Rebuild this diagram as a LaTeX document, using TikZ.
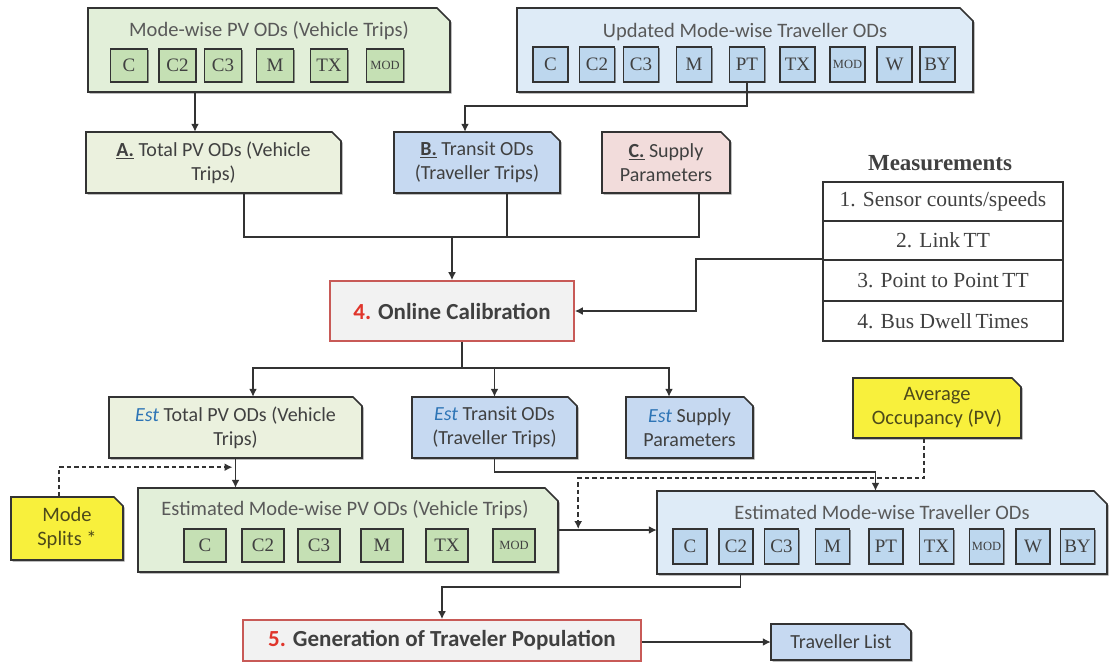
\documentclass[tikz,border=0pt]{standalone}
\usepackage{fontspec}
\setmainfont{Carlito}
\newfontfamily\modefont{Liberation Serif}
\usetikzlibrary{arrows.meta,calc,shadows}

\definecolor{linec}{HTML}{333333}
\definecolor{shadowc}{HTML}{9A9A9A}
\definecolor{textc}{HTML}{404040}
\definecolor{titlec}{HTML}{595959}
\definecolor{pvouter}{HTML}{E2EFD9}
\definecolor{pvinner}{HTML}{C5E0B4}
\definecolor{tvouter}{HTML}{DEEBF7}
\definecolor{tvinner}{HTML}{BDD7EE}
\definecolor{olivefill}{HTML}{EBF1DE}
\definecolor{bluefill}{HTML}{C6D9F1}
\definecolor{pinkfill}{HTML}{F2DCDB}
\definecolor{yellowfill}{HTML}{F8F03C}
\definecolor{yellowtext}{HTML}{4D4A1A}
\definecolor{procfill}{HTML}{F2F2F2}
\definecolor{procline}{HTML}{C85A57}
\definecolor{stepred}{HTML}{E0352B}
\definecolor{estblue}{HTML}{2E75B6}

% box with the top-right corner snipped off, plus a named node covering it
% #1 name, #2 x1, #3 y1, #4 x2, #5 y2, #6 fill, #7 snip size, #8 node style, #9 text
\newcommand\snipbox[9]{%
  \path[fill=shadowc, shift={(1.6,1.6)}] (#2,#3) -- ({#4-#7},#3) -- (#4,{#3+#7}) -- (#4,#5) -- (#2,#5) -- cycle;
  \path[draw=linec, line width=1.6pt, fill=#6] (#2,#3) -- ({#4-#7},#3) -- (#4,{#3+#7}) -- (#4,#5) -- (#2,#5) -- cycle;
  \node[inner sep=0pt, minimum width={#4-#2}, minimum height={#5-#3}, #8] (#1) at ({(#2+#4)/2},{(#3+#5)/2}) {#9};
}

\tikzset{
  boxtext/.style={align=center, text=textc, font=\fontsize{20}{24}\selectfont},
  ytext/.style={align=center, text=yellowtext, font=\fontsize{20.5}{24}\selectfont},
  titletext/.style={text=titlec, font=\fontsize{20.5}{24}\selectfont, inner sep=0pt},
  modebox/.style={draw=linec, line width=1.8pt, inner sep=0pt, text=textc,
    font=\modefont\fontsize{19}{19}\selectfont,
    drop shadow={shadow xshift=1.2pt, shadow yshift=-1.2pt, fill=black, opacity=.4}},
  pvbox/.style={modebox, fill=pvinner, minimum height=33pt},
  tvbox/.style={modebox, fill=tvinner, minimum height=35pt},
  small/.style={font=\modefont\fontsize{12.5}{12.5}\selectfont},
  proc/.style={draw=procline, line width=1.6pt, fill=procfill, inner sep=0pt, text=textc,
    font=\bfseries\fontsize{23}{27}\selectfont},
  mrow/.style={draw=linec, line width=1.6pt, minimum width=240pt, inner sep=0pt, text=textc,
    font=\modefont\fontsize{21.5}{23}\selectfont},
  conn/.style={draw=linec, line width=1.9pt},
  arr/.style={conn, -{Latex[length=8pt,width=8pt]}},
  darr/.style={arr, dash pattern=on 4.5pt off 3pt},
}

\begin{document}
\begin{tikzpicture}[x=1pt,y=-1pt]
\useasboundingbox[fill=white] (0,0) rectangle (1111,662);

% ---------- mode-wise PV ODs ----------
\snipbox{PVtop}{88}{8}{450}{92}{pvouter}{13}{}{}
\node[titletext] (PVtitle) at (269,31) {Mode-wise PV ODs (Vehicle Trips)};
\node[pvbox, minimum width=37pt] (PVc)  at (129,65.5) {C};
\node[pvbox, minimum width=37pt] (PVc2) at (177.5,65.5) {C2};
\node[pvbox, minimum width=37pt] (PVc3) at (223,65.5) {C3};
\node[pvbox, minimum width=37pt] (PVm)  at (275,65.5) {M};
\node[pvbox, minimum width=37pt] (PVtx) at (329,65.5) {TX};
\node[pvbox, minimum width=37pt, small] (PVmod) at (385,65.5) {MOD};

% ---------- updated mode-wise traveller ODs ----------
\snipbox{TVtop}{517}{8}{973}{92}{tvouter}{13}{}{}
\node[titletext] (TVtitle) at (745,32) {Updated Mode-wise Traveller ODs};
\node[tvbox, minimum width=35pt] (TVc)  at (550.5,64.5) {C};
\node[tvbox, minimum width=35pt] (TVc2) at (597,64.5) {C2};
\node[tvbox, minimum width=35pt] (TVc3) at (641,64.5) {C3};
\node[tvbox, minimum width=35pt] (TVm)  at (694,64.5) {M};
\node[tvbox, minimum width=35pt] (TVpt) at (747,64.5) {PT};
\node[tvbox, minimum width=35pt] (TVtx) at (797.5,64.5) {TX};
\node[tvbox, minimum width=35pt, small] (TVmod) at (847.5,64.5) {MOD};
\node[tvbox, minimum width=35pt] (TVw)  at (894.5,64.5) {W};
\node[tvbox, minimum width=35pt] (TVby) at (937.5,64.5) {BY};

% ---------- inputs A, B, C ----------
\snipbox{Abox}{86}{132}{341}{193}{olivefill}{9}{boxtext}{\underline{\textbf{A.}} Total PV ODs (Vehicle\\Trips)}
\snipbox{Bbox}{394}{132}{560}{193}{bluefill}{9}{boxtext}{\underline{\textbf{B.}} Transit ODs\\(Traveller Trips)}
\snipbox{Cbox}{602}{132}{730}{193}{pinkfill}{9}{boxtext}{\underline{\textbf{C.}} Supply\\Parameters}

% ---------- measurements ----------
\node[font=\modefont\bfseries\fontsize{23}{25}\selectfont, text=textc] (mhead) at (940,163) {Measurements};
\node[mrow, minimum height=39pt] (m1) at (943,201.5) {1. Sensor counts/speeds};
\node[mrow, minimum height=39pt] (m2) at (943,240.5) {2. Link\,TT};
\node[mrow, minimum height=41pt] (m3) at (943,280.5) {3. Point to Point\,TT};
\node[mrow, minimum height=40pt] (m4) at (943,321) {4. Bus Dwell\,Times};

% ---------- online calibration ----------
\node[proc, minimum width=244pt, minimum height=60pt] (OC) at (452,311) {\textcolor{stepred}{4.} Online Calibration};

% ---------- estimates ----------
\snipbox{EstT}{109}{397}{362}{458}{olivefill}{9}{boxtext}{\textit{\textcolor{estblue}{Est}} Total PV ODs (Vehicle\\Trips)}
\snipbox{EstTr}{412}{397}{577}{458}{bluefill}{9}{boxtext}{\textit{\textcolor{estblue}{Est}} Transit ODs\\(Traveller Trips)}
\snipbox{EstS}{626}{397}{753}{458}{bluefill}{9}{boxtext}{\textit{\textcolor{estblue}{Est}} Supply\\Parameters}

\snipbox{AO}{853}{378}{1021}{438}{yellowfill}{9}{ytext}{Average\\Occupancy (PV)}
\snipbox{MS}{11}{497}{123}{560}{yellowfill}{9}{ytext}{Mode\\Splits *}

% ---------- estimated mode-wise PV ODs ----------
\snipbox{EPV}{138}{488}{558}{572}{pvouter}{13}{}{}
\node[titletext] (EPVtitle) at (345,510) {Estimated Mode-wise PV ODs (Vehicle Trips)};
\node[pvbox, minimum width=42pt] (EPVc)  at (205,545.5) {C};
\node[pvbox, minimum width=42pt] (EPVc2) at (263,545.5) {C2};
\node[pvbox, minimum width=42pt] (EPVc3) at (319,545.5) {C3};
\node[pvbox, minimum width=42pt] (EPVm)  at (382,545.5) {M};
\node[pvbox, minimum width=42pt] (EPVtx) at (447,545.5) {TX};
\node[pvbox, minimum width=42pt, small] (EPVmod) at (514,545.5) {MOD};

% ---------- estimated mode-wise traveller ODs ----------
\snipbox{ETrav}{657}{491}{1107}{574}{tvouter}{13}{}{}
\node[titletext] (ETtitle) at (882,512) {Estimated Mode-wise Traveller ODs};
\node[tvbox, minimum width=34pt] (ETc)  at (690,546.5) {C};
\node[tvbox, minimum width=34pt] (ETc2) at (736,546.5) {C2};
\node[tvbox, minimum width=34pt] (ETc3) at (781.5,546.5) {C3};
\node[tvbox, minimum width=34pt] (ETm)  at (832.5,546.5) {M};
\node[tvbox, minimum width=34pt] (ETpt) at (886,546.5) {PT};
\node[tvbox, minimum width=34pt] (ETtx) at (936.5,546.5) {TX};
\node[tvbox, minimum width=34pt, small] (ETmod) at (986.5,546.5) {MOD};
\node[tvbox, minimum width=34pt] (ETw)  at (1033,546.5) {W};
\node[tvbox, minimum width=34pt] (ETby) at (1077.5,546.5) {BY};

% ---------- population generation ----------
\node[proc, minimum width=398pt, minimum height=41pt] (Gen) at (442,640.5) {\textcolor{stepred}{5.} Generation of Traveler Population};
\snipbox{TL}{771}{624}{911}{660}{bluefill}{7}{boxtext}{Traveller List}

% ---------- connectors ----------
\draw[arr] ([xshift=-74pt]PVtop.south) -- ([xshift=-18.5pt]Abox.north);
\draw[arr] (TVpt.south) -- ++(0,23) -| ([xshift=-12pt]Bbox.north);

\draw[conn] ([xshift=30.5pt]Abox.south) -- ++(0,44) -| ([xshift=33pt]Cbox.south);
\draw[conn] ([xshift=30pt]Bbox.south) -- ++(0,44);
\draw[arr] ([yshift=44pt]OC.north) -- (OC.north);

\draw[arr] (m3.north west) -- ++(-126,0) |- (OC.east);

\coordinate (split) at ([xshift=10pt,yshift=-26pt]OC.south);
\draw[conn] ([xshift=10pt]OC.south) -- (split);
\draw[arr] (split) -| ([xshift=17.5pt]EstT.north);
\draw[arr] (split) -| (EstTr.north);
\draw[arr] (split) -| ([xshift=-20.5pt]EstS.north);

\draw[arr] (EstT.south) -- (EstT.south |- EPV.north);
\draw[darr] ([xshift=-8pt]MS.north) |- ([xshift=-3pt,yshift=-9pt]EstT.south);

\draw[arr] (EstTr.south) -- ++(0,14) -| ([xshift=-6.5pt]ETrav.north);
\draw[darr] ([xshift=-13pt]AO.south) -- ++(0,40) -| ([xshift=20pt,yshift=1pt]EPV.east);
\draw[arr] (EPV.east) -- (EPV.east -| ETrav.west);

\draw[arr] ([xshift=-141.5pt]ETrav.south) -- ++(0,13) -| (Gen.north);
\draw[arr] (Gen.east |- TL.west) -- (TL.west);
\end{tikzpicture}
\end{document}
